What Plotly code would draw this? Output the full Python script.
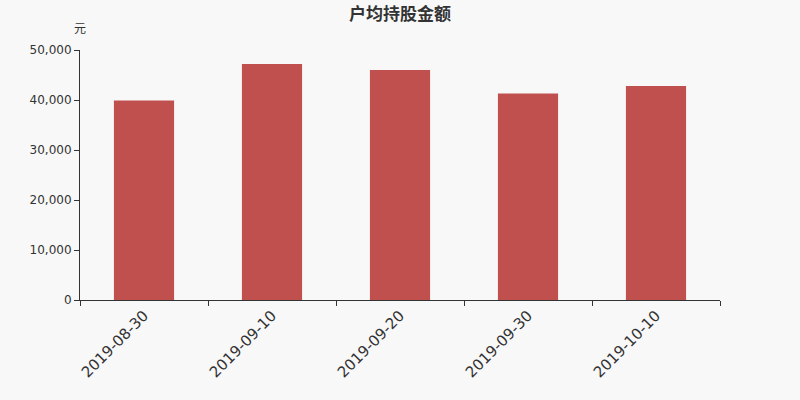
import plotly.graph_objects as go

dates = ["2019-08-30", "2019-09-10", "2019-09-20", "2019-09-30", "2019-10-10"]
amounts = [39900, 47200, 46000, 41300, 42800]

fig = go.Figure()
fig.add_trace(go.Bar(x=dates, y=amounts, marker_color="#c0504d", marker_line_width=0, width=0.47))

fig.update_layout(
    width=800, height=400,
    paper_bgcolor="#f8f8f8", plot_bgcolor="#f8f8f8",
    margin=dict(l=80, r=80, t=50, b=100),
    font=dict(family="Noto Sans CJK SC, DejaVu Sans", color="#333333"),
    title=dict(text="<b>户均持股金额</b>", x=0.5, xanchor="center", y=0.965, yanchor="middle",
               font=dict(size=17, color="#333333")),
    showlegend=False,
)
fig.update_xaxes(type="category", tickson="boundaries", ticks="outside", ticklen=5,
                 tickcolor="#333333", showline=True, linecolor="#333333", linewidth=1,
                 tickangle=-45, tickfont=dict(size=15, family="DejaVu Sans"), showgrid=False)
fig.update_yaxes(range=[0, 50000], dtick=10000, tickformat=",", ticks="outside", ticklen=5,
                 tickcolor="#333333", showline=True, linecolor="#333333", linewidth=1,
                 showgrid=False, zeroline=False, tickfont=dict(size=12, family="DejaVu Sans"))
fig.add_annotation(text="元", xref="paper", yref="paper", x=0, y=1.0, yshift=33,
                   xanchor="center", showarrow=False, font=dict(size=12, color="#333333"))

fig.write_html("out.html", config={"displayModeBar": False},
               post_script="document.body.style.margin='0';")
